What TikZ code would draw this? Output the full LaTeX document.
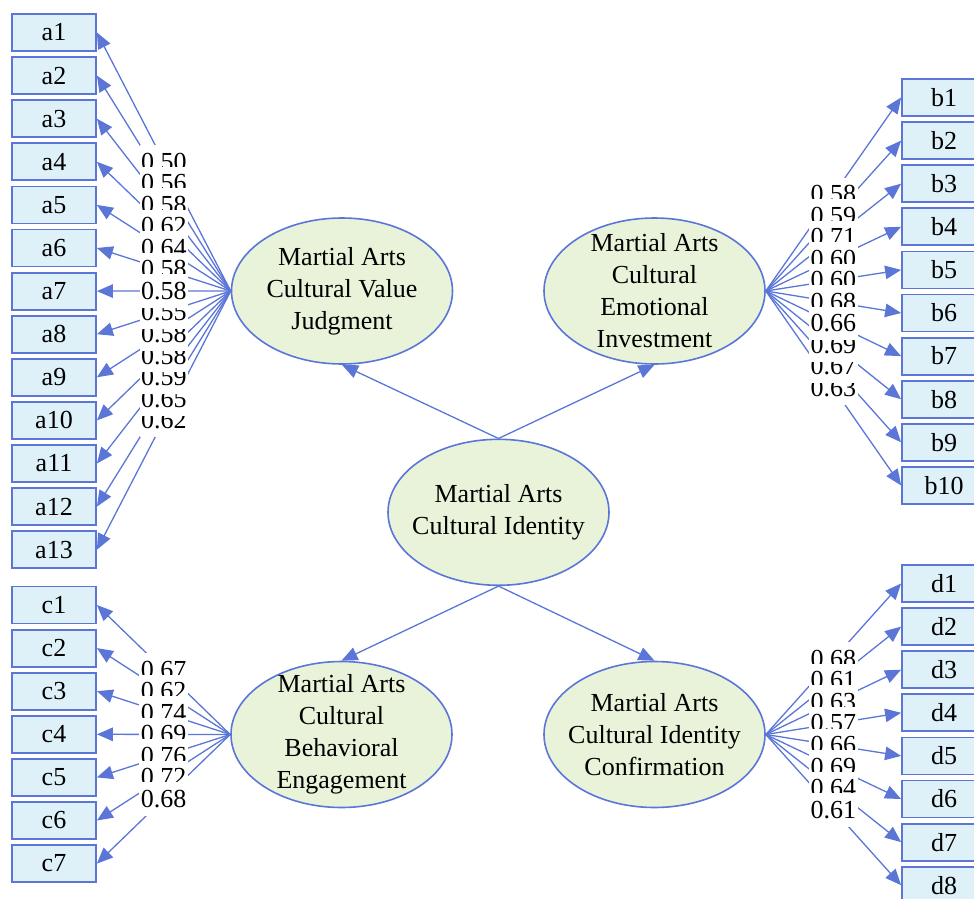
\documentclass[tikz,border=0pt]{standalone}
\usepackage{fontspec}
\setmainfont{Liberation Serif}
\usetikzlibrary{arrows.meta,shapes.geometric,calc}
\definecolor{edgeblue}{RGB}{91,118,214}
\definecolor{boxfill}{RGB}{223,241,248}
\definecolor{ellfill}{RGB}{232,243,218}
\begin{document}
\begin{tikzpicture}[x=1pt,y=-1pt,
  font=\fontsize{26}{32}\selectfont,
  obs/.style={draw=edgeblue,line width=1.8pt,fill=boxfill,minimum width=84pt,minimum height=37pt,inner sep=0pt},
  lat/.style={ellipse,draw=edgeblue,line width=1.6pt,fill=ellfill,minimum width=221pt,minimum height=146pt,inner sep=0pt},
  lattext/.style={align=center,inner sep=0pt},
  conn/.style={draw=edgeblue,line width=1.3pt,-{Triangle[length=16pt,width=13.5pt]}},
  lab/.style={fill=white,inner xsep=1.5pt,inner ysep=0pt,text height=25pt,text depth=8.4pt}]
\useasboundingbox (0,0) rectangle (974,899);

% latent variables
\node[lat] (ci) at (498.5,512.3) {};
\node[lattext] (ci-t) at (ci) {Martial Arts\\Cultural Identity};
\node[lat] (vj) at (342,291) {};
\node[lattext] (vj-t) at (vj) {Martial Arts\\Cultural Value\\Judgment};
\node[lat] (ei) at (654.5,291) {};
\node[lattext] (ei-t) at (ei) {Martial Arts\\Cultural\\Emotional\\Investment};
\node[lat] (be) at (341.5,734.5) {};
\node[lattext] (be-t) at (be) {Martial Arts\\Cultural\\Behavioral\\Engagement};
\node[lat] (ic) at (654.5,734.5) {};
\node[lattext] (ic-t) at (ic) {Martial Arts\\Cultural Identity\\Confirmation};

% observed variables
\foreach \i in {1,...,13} \node[obs] (a\i) at (54,{32.5+43.1*(\i-1)}) {a\i};
\foreach \i in {1,...,10} \node[obs] (b\i) at (944,{97.5+43.1*(\i-1)}) {b\i};
\foreach \i in {1,...,7} \node[obs] (c\i) at (54,{605+43.1*(\i-1)}) {c\i};
\foreach \i in {1,...,8} \node[obs] (d\i) at (944,{583.5+43.1*(\i-1)}) {d\i};

% structural paths
\draw[conn] (ci.north) -- (vj.south);
\draw[conn] (ci.north) -- (ei.south);
\draw[conn] (ci.south) -- (be.north);
\draw[conn] (ci.south) -- (ic.north);

% loadings: lines first
\foreach \i in {1,...,13} \draw[conn] (vj.west) -- coordinate (ma\i) (a\i.east);
\foreach \i in {1,...,10} \draw[conn] (ei.east) -- coordinate (mb\i) (b\i.west);
\foreach \i in {1,...,7} \draw[conn] (be.west) -- coordinate (mc\i) (c\i.east);
\foreach \i in {1,...,8} \draw[conn] (ic.east) -- coordinate (md\i) (d\i.west);

% labels (stacking order as in the reference)
\foreach \i/\v in {1/0.50,2/0.56,3/0.58,4/0.62,5/0.64,6/0.58,13/0.62,12/0.65,11/0.59,10/0.58,9/0.58,8/0.55,7/0.58}
  \node[lab] (la\i) at (ma\i) {\v};
\foreach \i/\v in {1/0.58,2/0.59,3/0.71,4/0.60,5/0.60,6/0.68,10/0.63,9/0.67,8/0.69,7/0.66}
  \node[lab] (lb\i) at (mb\i) {\v};
\foreach \i/\v in {1/0.67,2/0.62,3/0.74,4/0.69,5/0.76,6/0.72,7/0.68}
  \node[lab] (lc\i) at (mc\i) {\v};
\foreach \i/\v in {1/0.68,2/0.61,3/0.63,4/0.57,5/0.66,6/0.69,7/0.64,8/0.61}
  \node[lab] (ld\i) at (md\i) {\v};
\end{tikzpicture}
\end{document}
